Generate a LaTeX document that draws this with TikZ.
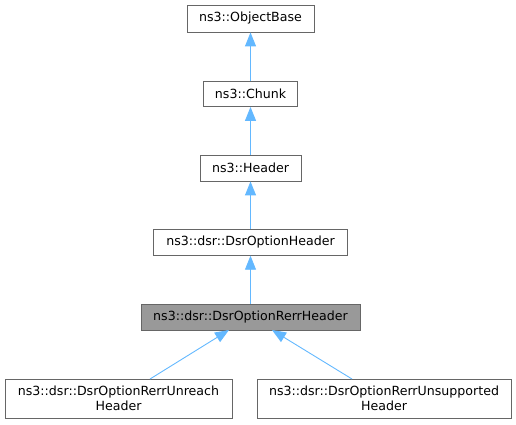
\documentclass[tikz,border=0pt]{standalone}
\usepackage{fontspec}
\setmainfont{DejaVu Sans}
\usetikzlibrary{arrows.meta}
\definecolor{edgeblue}{RGB}{99,184,255}
\begin{document}
\begin{tikzpicture}[x=1pt,y=-1pt,
  cls/.style={draw=black!60, fill=white, line width=0.8pt, inner sep=0pt, font=\fontsize{12.6}{14.5}\selectfont, align=center},
  inh/.style={draw=edgeblue, line width=0.9pt, -{Triangle[length=14pt,width=11pt,fill=edgeblue]}}]
\useasboundingbox (0,0) rectangle (516,424);
\node[cls, minimum width=127pt, minimum height=27pt] (ob) at (250.5,18.5) {ns3::ObjectBase};
\node[cls, minimum width=94pt, minimum height=25pt] (ch) at (250.5,94) {ns3::Chunk};
\node[cls, minimum width=101pt, minimum height=26pt] (hd) at (250.5,168) {ns3::Header};
\node[cls, minimum width=194pt, minimum height=26pt] (doh) at (250.5,242.3) {ns3::dsr::DsrOptionHeader};
\node[cls, fill=black!40, minimum width=219pt, minimum height=26pt] (rerr) at (250.5,317.2) {ns3::dsr::DsrOptionRerrHeader};
\node[cls, minimum width=227pt, minimum height=39pt] (un) at (118.5,398.5) {ns3::dsr::DsrOptionRerrUnreach\\Header};
\node[cls, minimum width=254pt, minimum height=39pt] (us) at (384,398.5) {ns3::dsr::DsrOptionRerrUnsupported\\Header};
\draw[inh] (ch.north) -- (ob.south);
\draw[inh] (hd.north) -- (ch.south);
\draw[inh] (doh.north) -- (hd.south);
\draw[inh] (rerr.north) -- (doh.south);
\coordinate (unt) at (150,379);
\coordinate (rl) at (229,330);
\coordinate (ust) at (352,379);
\coordinate (rr) at (272,330);
\draw[inh] (unt) -- (rl);
\draw[inh] (ust) -- (rr);
\end{tikzpicture}
\end{document}
